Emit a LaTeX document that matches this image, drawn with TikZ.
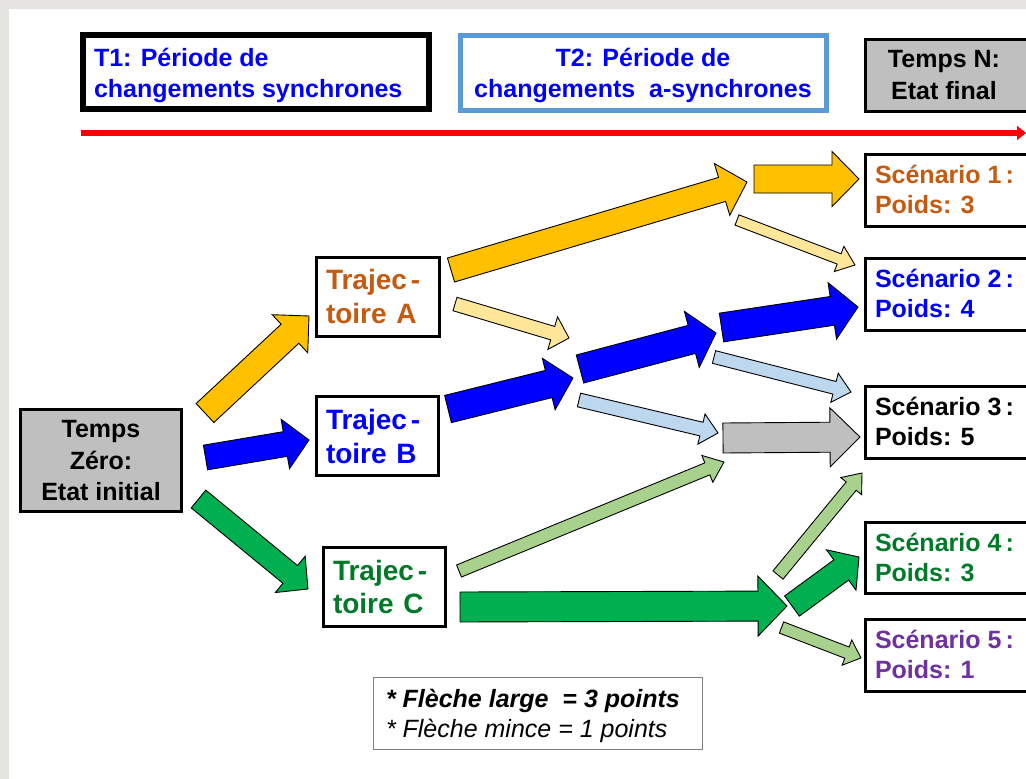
\documentclass[tikz,border=0pt]{standalone}
\usepackage{fontspec}
\setmainfont{Liberation Sans}
\usetikzlibrary{arrows.meta}
\definecolor{frameG}{HTML}{E6E4E1}
\definecolor{orangeT}{HTML}{C55A11}
\definecolor{blueT}{HTML}{0000FF}
\definecolor{greenT}{RGB}{0,122,40}
\definecolor{purpleT}{HTML}{7030A0}
\definecolor{yel}{HTML}{FFC000}
\definecolor{ltyel}{HTML}{FFE699}
\definecolor{blu}{HTML}{0000FF}
\definecolor{ltblu}{HTML}{BDD7EE}
\definecolor{gry}{HTML}{BFBFBF}
\definecolor{grn}{HTML}{00B050}
\definecolor{ltgrn}{HTML}{A9D18E}
\definecolor{tbord}{HTML}{5B9BD5}
\definecolor{redL}{HTML}{FF0000}
\definecolor{legG}{HTML}{7F7F7F}
% block arrow: fill, x1,y1 (tail centre), x2,y2 (tip), shaft width, head width, head length
\newcommand\blockarr[8]{%
  \pgfmathsetmacro\baang{atan2(#3-#5,#4-#2)}%
  \pgfmathsetmacro\balen{veclen(#4-#2,#5-#3)}%
  \begin{scope}[shift={(#2,#3)},rotate=\baang]
    \draw[arrowline,fill=#1] (0,#6/2) -- ({\balen-#8},#6/2) -- ({\balen-#8},#7/2)
      -- (\balen,0) -- ({\balen-#8},-#7/2) -- ({\balen-#8},-#6/2) -- (0,-#6/2) -- cycle;
  \end{scope}}
\tikzset{
  every node/.style={inner sep=0pt, outer sep=0pt},
  box/.style={draw=black, line width=3pt, anchor=north west},
  lbl/.style={font=\fontsize{25}{31}\selectfont\bfseries, anchor=base west},
  clbl/.style={font=\fontsize{25}{31}\selectfont\bfseries, anchor=base},
  tlbl/.style={font=\fontsize{28}{34}\selectfont\bfseries, anchor=base west},
  arrowline/.style={draw=black, line width=0.9pt, line join=miter},
}
\begin{document}
\begin{tikzpicture}[x=1pt,y=-1pt]
\path[use as bounding box] (0,0) rectangle (1026,779);
\clip (0,0) rectangle (1026,779);
\fill[white] (0,0) rectangle (1026,779);
\fill[frameG] (0,0) rectangle (1026,9);
\fill[frameG] (0,0) rectangle (9,779);

% time line
\coordinate (tl0) at (81,133);
\coordinate (tl1) at (1026,133);
\draw[redL, line width=6pt, -{Triangle[length=9pt,width=14pt]}] (tl0) -- (tl1);

% header boxes
\node[box, line width=6pt, minimum width=346pt, minimum height=74pt] (t1) at (83,35) {};
\node[lbl, text=blueT] (t1a) at (94,66) {T1: Période de};
\node[lbl, text=blueT] (t1b) at (94,97) {changements synchrones};

\node[box, draw=tbord, line width=5pt, minimum width=366pt, minimum height=75pt] (t2) at (460.5,35.5) {};
\node[clbl, text=blueT] (t2a) at (643,66) {T2: Période de};
\node[clbl, text=blueT] (t2b) at (643,97) {changements\ \ a-synchrones};

\node[box, fill=gry, minimum width=176pt, minimum height=72pt] (tn) at (865.5,39.5) {};
\node[clbl] (tna) at (944,67) {Temps N:};
\node[clbl] (tnb) at (944,99) {Etat final};

% block arrows
\blockarr{yel}{205}{413}{309}{316}{26}{52}{26}
\blockarr{blu}{205.5}{457.5}{309}{440}{25}{50}{24}
\blockarr{grn}{198.5}{499}{308}{589}{23}{47}{23}
\blockarr{yel}{451}{270}{747}{182}{25}{54}{26}
\blockarr{yel}{754}{179}{859}{179}{28}{55}{27}
\blockarr{ltyel}{737}{220}{855}{265}{11}{27}{17}
\blockarr{ltyel}{455}{304}{569}{338}{14}{34}{17}
\blockarr{blu}{448}{409}{573}{378}{28}{53}{25}
\blockarr{blu}{580}{369}{716}{333}{29}{58}{25}
\blockarr{blu}{721.5}{327.5}{858}{307}{29}{57}{26}
\blockarr{ltblu}{714}{357}{851}{392}{13}{30}{17}
\blockarr{ltblu}{579}{400}{718}{433}{14}{31}{17}
\blockarr{gry}{723}{438}{860}{437}{30}{59}{30}
\blockarr{ltgrn}{459}{571}{724}{462}{13}{29}{18}
\blockarr{ltgrn}{778}{575}{862}{473}{13}{27}{17}
\blockarr{grn}{460}{607}{787}{606}{30}{60}{29}
\blockarr{grn}{792}{606}{859}{557}{25}{50}{22}
\blockarr{ltgrn}{781.5}{627.5}{861}{658}{12}{27}{15}

% start box
\node[box, fill=gry, minimum width=161pt, minimum height=102pt] (t0) at (20.5,409.5) {};
\node[clbl] (t0a) at (101,437) {Temps};
\node[clbl] (t0b) at (101,469) {Zéro:};
\node[clbl] (t0c) at (101,500) {Etat initial};

% trajectories
\node[box, minimum width=123pt, minimum height=79pt] (ta) at (316.5,257.5) {};
\node[tlbl, text=orangeT] (taa) at (326,289) {Trajec\hspace{4pt}-};
\node[tlbl, text=orangeT] (tab) at (326,323) {toire\hspace{2pt} A};

\node[box, minimum width=122pt, minimum height=79pt] (tb) at (316.5,396.5) {};
\node[tlbl, text=blueT] (tba) at (326,429) {Trajec\hspace{4pt}-};
\node[tlbl, text=blueT] (tbb) at (326,463) {toire\hspace{2pt} B};

\node[box, minimum width=122pt, minimum height=79pt] (tc) at (323.5,547.5) {};
\node[tlbl, text=greenT] (tca) at (333,580) {Trajec\hspace{4pt}-};
\node[tlbl, text=greenT] (tcb) at (333,613) {toire\hspace{2pt} C};

% scenarios
\node[box, minimum width=176pt, minimum height=72pt] (s1) at (865.5,154.5) {};
\node[lbl, text=orangeT] (s1a) at (875,183) {Scénario 1\,:};
\node[lbl, text=orangeT] (s1b) at (875,213) {Poids: 3};

\node[box, minimum width=176pt, minimum height=72pt] (s2) at (865.5,258.5) {};
\node[lbl, text=blueT] (s2a) at (875,287) {Scénario 2\,:};
\node[lbl, text=blueT] (s2b) at (875,317) {Poids: 4};

\node[box, minimum width=176pt, minimum height=72pt] (s3) at (865.5,386.5) {};
\node[lbl] (s3a) at (875,415) {Scénario 3\,:};
\node[lbl] (s3b) at (875,445) {Poids: 5};

\node[box, minimum width=176pt, minimum height=71pt] (s4) at (865.5,522.5) {};
\node[lbl, text=greenT] (s4a) at (875,551) {Scénario 4\,:};
\node[lbl, text=greenT] (s4b) at (875,581) {Poids: 3};

\node[box, minimum width=176pt, minimum height=72pt] (s5) at (865.5,619.5) {};
\node[lbl, text=purpleT] (s5a) at (875,648) {Scénario 5\,:};
\node[lbl, text=purpleT] (s5b) at (875,678) {Poids: 1};

% legend
\node[box, draw=legG, line width=1pt, minimum width=329pt, minimum height=72pt] (leg) at (373.5,677.5) {};
\node[anchor=base west, font=\fontsize{25}{31}\selectfont\bfseries\itshape] (lega) at (386,707) {* Flèche large\ \ = 3 points};
\node[anchor=base west, font=\fontsize{25}{31}\selectfont\itshape] (legb) at (386,737) {* Flèche mince = 1 points};
\end{tikzpicture}
\end{document}
